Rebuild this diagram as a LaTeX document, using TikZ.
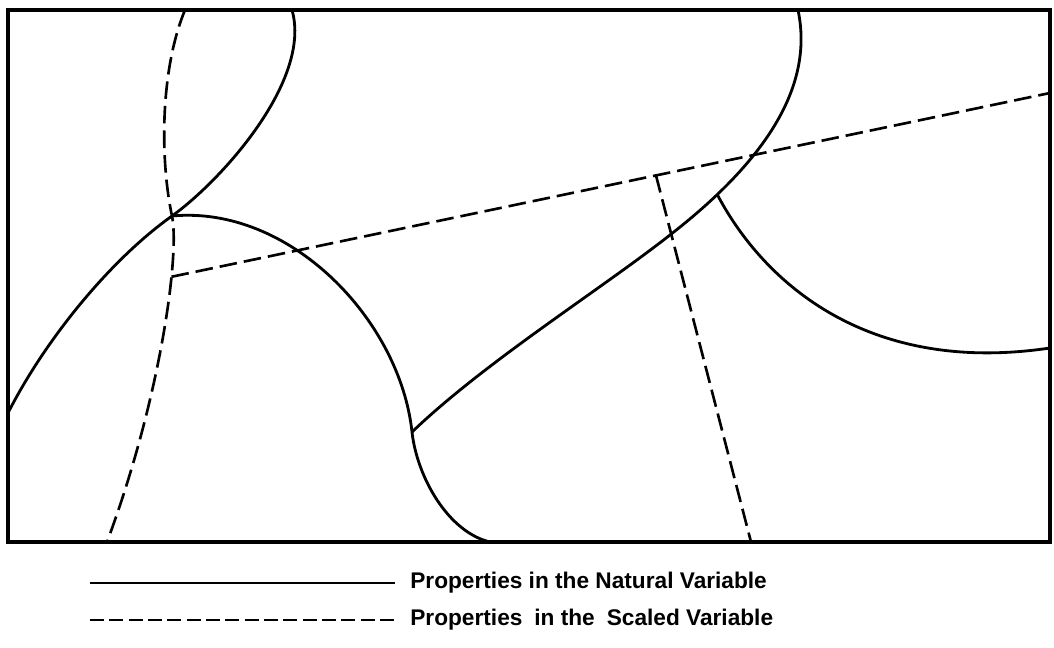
\documentclass[tikz,border=0pt]{standalone}
\usepackage{fontspec}
\setmainfont{Liberation Sans}
\usepackage{tikz}
\usetikzlibrary{calc}

\begin{document}
\begin{tikzpicture}[x=0.02cm,y=-0.02cm,
    natural/.style={line width=1.6pt},
    scaled/.style={line width=1.5pt,dash pattern=on 10pt off 4pt},
    legtext/.style={anchor=west,inner sep=0pt,font=\fontsize{12.9}{15}\selectfont\bfseries}]
  \useasboundingbox (0,0) rectangle (1054,648);

  % Frame
  \draw[line width=2.2pt] (8,10) rectangle (1050,542);

  % Properties in the natural variable
  \draw[natural] (8,413) .. controls (45,340) and (110,260) .. (172,216) coordinate (x1)
    .. controls (222,180) and (312,80) .. (292,10);
  \draw[natural] (x1) .. controls (290,205) and (400,320) .. (412,432) coordinate (x2)
    .. controls (417,477) and (448,532) .. (490,542);
  \draw[natural] (x2) .. controls (485,362) and (600,290) .. (670,235)
    .. controls (760,165) and (815,90) .. (798,10) coordinate[pos=0.19] (x3);
  \draw[natural] (x3) .. controls (765,285) and (870,375) .. (1050,348);

  % Properties in the scaled variable
  \draw[scaled] (185,10) .. controls (160,70) and (160,160) .. (x1)
    .. controls (180,255) and (160,400) .. (107,542) coordinate[pos=0.3] (x4);
  \draw[scaled] (x4) -- (1050,93) coordinate[pos=0.5515] (x5);
  \draw[scaled] (x5) -- (751,542);

  % Legend
  \node[legtext] (nat) at (410,583) {Properties in the Natural Variable};
  \node[legtext] (sca) at (410,620) {Properties\hspace{0.25em} in the\hspace{0.25em} Scaled Variable};
  \draw[natural] (90,583) -- ($(nat.west)+(-15,0)$);
  \draw[scaled,line width=1.3pt,dash pattern=on 8pt off 3pt] (90,620) -- ($(sca.west)+(-15,0)$);
\end{tikzpicture}
\end{document}
